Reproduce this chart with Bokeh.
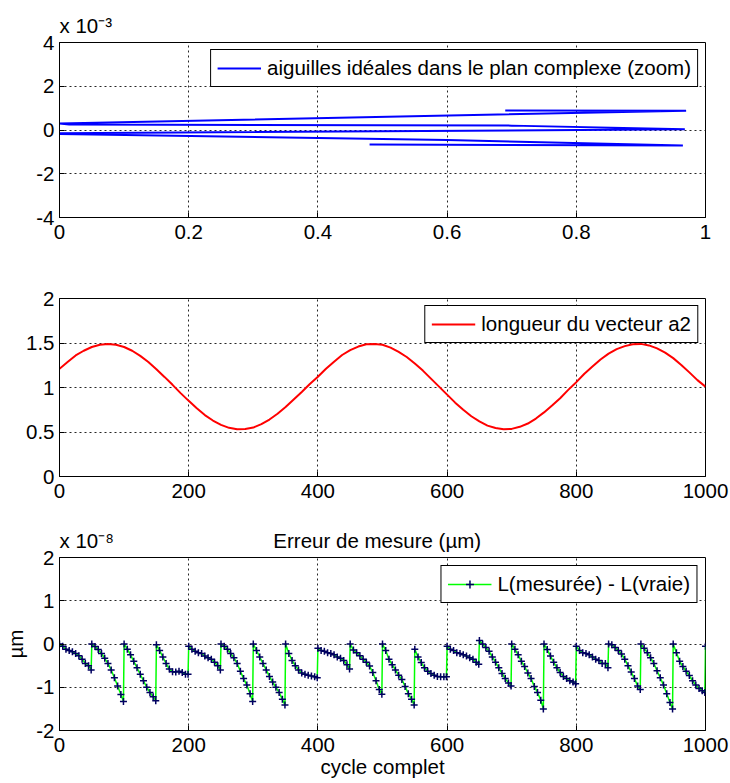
from bokeh.plotting import figure
from bokeh.models import Range1d, FixedTicker, CustomJSTickFormatter
from bokeh.layouts import column
from bokeh.embed import file_html
from bokeh.resources import INLINE

FONT = "Liberation Sans"
FS = "20.5px"
NBSP = "\u00a0"

# ---------------- data ----------------
# top: needles in the complex plane (imaginary part in units of 1e-3)
TOP_RE = [0.48, 0.965, 0.60, 0.0, 0.0, 0.968, 0.70, 0.015, 0.0, 0.97, 0.69]
TOP_IM = [-0.66, -0.71, -0.46, -0.18, -0.15, 0.03, 0.20, 0.25, 0.30, 0.88, 0.89]
TOP_XTICKS = [0, 0.2, 0.4, 0.6, 0.8, 1]
TOP_YTICKS = [-4, -2, 0, 2, 4]
TOP_EXP = "x 10\u207b\u00b3"

# middle: length of vector a2 (sampled every 12.5 cycles)
A2_X = [i * 12.5 for i in range(81)]
A2_LEN = [1.21, 1.286, 1.36, 1.413, 1.455, 1.481, 1.49, 1.481, 1.455, 1.413,
          1.355, 1.286, 1.205, 1.119, 1.03, 0.937, 0.85, 0.766, 0.69, 0.629,
          0.58, 0.547, 0.53, 0.533, 0.55, 0.589, 0.64, 0.705, 0.78, 0.865,
          0.95, 1.04, 1.12, 1.21, 1.29, 1.365, 1.42, 1.46, 1.485, 1.49,
          1.48, 1.448, 1.40, 1.343, 1.27, 1.19, 1.10, 1.01, 0.92, 0.83,
          0.75, 0.677, 0.62, 0.572, 0.545, 0.53, 0.535, 0.558, 0.595, 0.651,
          0.72, 0.797, 0.88, 0.973, 1.06, 1.155, 1.235, 1.315, 1.38, 1.431,
          1.465, 1.487, 1.49, 1.473, 1.44, 1.391, 1.33, 1.254, 1.17, 1.083,
          1.01]
MID_XTICKS = [0, 200, 400, 600, 800, 1000]
MID_YTICKS = [0, 0.5, 1, 1.5, 2]

# bottom: measurement error (units of 1e-8 um), 20 cycles of 50 samples
ERR_OFFS = [0, 5, 10, 15, 20, 25, 30, 35, 40, 45, 49]
ERR_Y = [
    0.0, -0.05, -0.12, -0.15, -0.18, -0.22, -0.27, -0.35, -0.45, -0.50, -0.60,
    0.0, -0.06, -0.13, -0.22, -0.33, -0.45, -0.60, -0.78, -0.97, -1.17, -1.33,
    0.0, -0.12, -0.25, -0.40, -0.55, -0.70, -0.85, -1.00, -1.12, -1.22, -1.31,
    -0.02, -0.15, -0.30, -0.45, -0.58, -0.64, -0.65, -0.63, -0.66, -0.70, -0.70,
    -0.05, -0.12, -0.17, -0.20, -0.22, -0.28, -0.32, -0.35, -0.42, -0.50, -0.60,
    0.0, -0.05, -0.12, -0.22, -0.32, -0.45, -0.63, -0.80, -0.95, -1.15, -1.33,
    0.0, -0.15, -0.30, -0.45, -0.60, -0.75, -0.88, -1.00, -1.12, -1.28, -1.41,
    0.0, -0.22, -0.38, -0.50, -0.60, -0.67, -0.70, -0.72, -0.74, -0.76, -0.78,
    -0.10, -0.15, -0.17, -0.20, -0.22, -0.25, -0.30, -0.33, -0.38, -0.48, -0.58,
    0.0, -0.14, -0.20, -0.27, -0.35, -0.42, -0.51, -0.66, -0.85, -1.05, -1.16,
    0.0, -0.15, -0.35, -0.48, -0.60, -0.72, -0.82, -0.98, -1.15, -1.28, -1.41,
    -0.12, -0.30, -0.43, -0.55, -0.63, -0.68, -0.72, -0.75, -0.76, -0.76, -0.76,
    -0.05, -0.12, -0.15, -0.20, -0.22, -0.25, -0.28, -0.32, -0.35, -0.42, -0.47,
    0.08, 0.0, -0.08, -0.17, -0.30, -0.42, -0.55, -0.68, -0.80, -0.90, -0.97,
    0.0, -0.12, -0.25, -0.40, -0.52, -0.67, -0.80, -0.98, -1.12, -1.30, -1.50,
    0.0, -0.13, -0.28, -0.42, -0.55, -0.66, -0.75, -0.80, -0.85, -0.88, -0.92,
    -0.05, -0.15, -0.20, -0.22, -0.25, -0.30, -0.35, -0.38, -0.45, -0.45, -0.55,
    0.0, -0.02, -0.08, -0.15, -0.23, -0.35, -0.50, -0.65, -0.80, -0.97, -1.05,
    0.0, -0.10, -0.20, -0.32, -0.45, -0.62, -0.78, -0.95, -1.15, -1.35, -1.50,
    0.0, -0.20, -0.40, -0.52, -0.63, -0.73, -0.85, -0.95, -1.03, -1.08, -1.12,
    -0.05,
]
ERR_X = [50 * k + o for k in range(20) for o in ERR_OFFS] + [1000]
BOT_XTICKS = [0, 200, 400, 600, 800, 1000]
BOT_YTICKS = [-2, -1, 0, 1, 2]
BOT_EXP = "x 10\u207b\u2078"
BOT_TITLE = "Erreur de mesure (µm)"

FMT = "return String(tick);"


def make_fig(height, top, bottom, xr, yr, xt, yt, title=None):
    p = figure(width=730, height=height, x_range=Range1d(*xr), y_range=Range1d(*yr),
               output_backend="svg", toolbar_location=None, title=title,
               min_border_left=59, min_border_right=25,
               min_border_top=top, min_border_bottom=bottom)
    p.background_fill_color = "white"
    p.border_fill_color = "white"
    p.outline_line_color = "black"
    p.outline_line_alpha = 1
    p.xaxis.ticker = FixedTicker(ticks=xt)
    p.yaxis.ticker = FixedTicker(ticks=yt)
    for ax in (p.xaxis[0], p.yaxis[0]):
        ax.formatter = CustomJSTickFormatter(code=FMT)
        ax.axis_line_color = "black"
        ax.major_tick_line_color = "black"
        ax.major_tick_in = 5
        ax.major_tick_out = 0
        ax.minor_tick_line_color = None
        ax.major_label_text_font = FONT
        ax.major_label_text_font_size = FS
        ax.major_label_text_color = "black"
        ax.axis_label_text_font = FONT
        ax.axis_label_text_font_size = FS
        ax.axis_label_text_font_style = "normal"
        ax.axis_label_text_color = "black"
    p.xaxis.major_label_standoff = 7
    p.yaxis.major_label_standoff = 5
    for g in (p.xgrid[0], p.ygrid[0]):
        g.grid_line_color = "black"
        g.grid_line_dash = "2 3"
        g.grid_line_width = 1
        g.grid_line_alpha = 0.85
    if title is not None:
        p.title.align = "left"
        p.title.text_font = FONT
        p.title.text_font_size = FS
        p.title.text_font_style = "normal"
        p.title.text_color = "black"
    return p


def style_legend(p, margin=7):
    lg = p.legend[0]
    lg.location = "top_right"
    lg.margin = margin
    lg.padding = 6
    lg.spacing = 0
    lg.border_line_color = "black"
    lg.border_line_width = 1
    lg.border_line_alpha = 1
    lg.background_fill_color = "white"
    lg.background_fill_alpha = 1
    lg.glyph_width = 44
    lg.glyph_height = 20
    lg.label_standoff = 6
    lg.label_text_font = FONT
    lg.label_text_font_size = FS
    lg.label_text_color = "black"


# ---------------- top ----------------
p1 = make_fig(253, 42, 36, (0, 1), (-4, 4), TOP_XTICKS, TOP_YTICKS, title=TOP_EXP)
p1.title.vertical_align = "middle"
p1.line(TOP_RE, TOP_IM, color="#0000FF", line_width=2,
        legend_label="aiguilles idéales dans le plan complexe (zoom)")
style_legend(p1)

# ---------------- middle ----------------
p2 = make_fig(263, 45, 40, (0, 1000), (0, 2), MID_XTICKS, MID_YTICKS)
p2.line(A2_X, A2_LEN, color="#FF0000", line_width=2, legend_label="longueur du vecteur a2")
style_legend(p2)

# ---------------- bottom ----------------
p3 = make_fig(267, 41, 53, (0, 1000), (-2, 2), BOT_XTICKS, BOT_YTICKS,
              title=BOT_EXP + NBSP * 28 + BOT_TITLE)
p3.title.vertical_align = "middle"
LEG3 = "L(mesurée) - L(vraie)"
p3.line(ERR_X, ERR_Y, color="#00FF00", line_width=1.5, legend_label=LEG3)
p3.scatter(ERR_X, ERR_Y, marker="cross", size=7, line_color="#000060", line_width=1.5,
           legend_label=LEG3)
style_legend(p3, margin=8)
p3.xaxis.axis_label = "cycle complet"
p3.xaxis.axis_label_standoff = 0
p3.yaxis.axis_label = "µm"
p3.yaxis.axis_label_standoff = 6

layout = column(p1, p2, p3, spacing=0)
open("out.html", "w").write(file_html(layout, INLINE))
